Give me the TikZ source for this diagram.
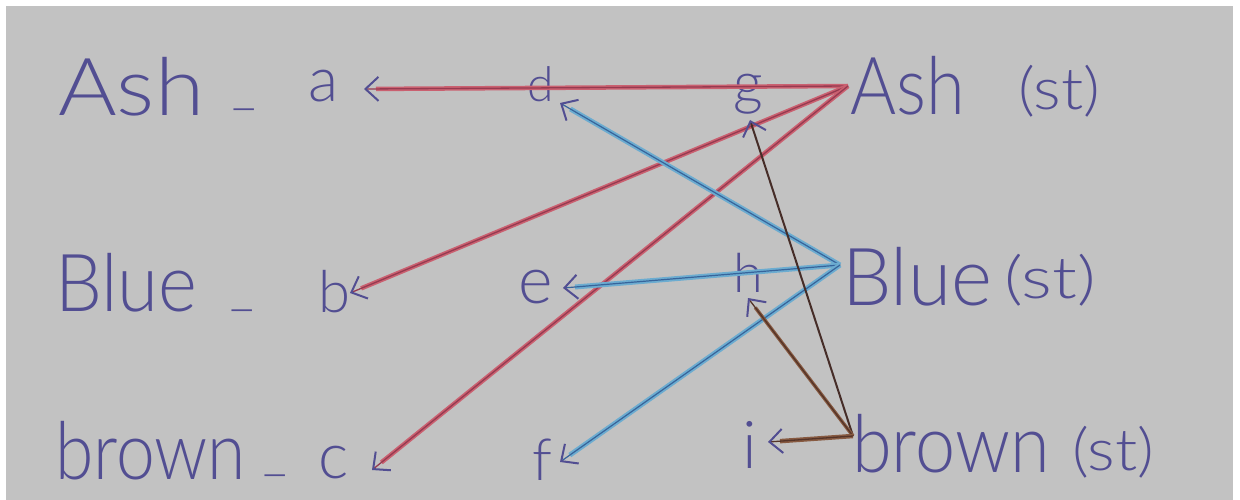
\documentclass[tikz,border=0pt]{standalone}
\usepackage{fontspec}
\setmainfont{Lato Light}
\usetikzlibrary{arrows.meta}
\definecolor{paper}{RGB}{194,194,194}
\definecolor{ink}{RGB}{82,78,146}
\definecolor{redout}{RGB}{202,96,112}
\definecolor{redcore}{RGB}{150,58,80}
\definecolor{blueout}{RGB}{108,172,208}
\definecolor{bluecore}{RGB}{55,100,155}
\definecolor{browndark}{RGB}{70,45,40}
\definecolor{brownout}{RGB}{135,90,65}
\definecolor{browncore}{RGB}{85,52,40}
\tikzset{
  bigword/.style={font=\fontsize{80}{90}\selectfont, text=ink, inner sep=0pt, anchor=base west},
  letter/.style={font=\fontsize{#1}{#1}\selectfont, text=ink, inner sep=0pt, anchor=base west},
  letter/.default=58,
  stmark/.style={font=\fontsize{58}{62}\selectfont, text=ink, inner sep=0pt, anchor=base west},
  dashmark/.style={font=\fontsize{52}{54}\selectfont, text=ink, inner sep=0pt, anchor=base west},
  inktip/.style={-{Straight Barb[length=13pt,width=24pt,line width=2pt,color=ink]}},
  redwide/.style={draw=redout, line width=4.5pt, shorten >=12pt},
  redthin/.style={inktip, draw=redcore, line width=1.3pt},
  bluewide/.style={draw=blueout, line width=5pt, shorten >=12pt},
  bluethin/.style={inktip, draw=bluecore, line width=1.2pt},
  brownthin/.style={inktip, draw=browndark, line width=2pt},
  brownwide/.style={draw=brownout, line width=3.5pt, shorten >=12pt},
  browncoreline/.style={inktip, draw=browncore, line width=1.3pt},
}
\begin{document}
\begin{tikzpicture}[x=1pt,y=-1pt]
\fill[white] (0,0) rectangle (1240,500);
\fill[paper] (6,6) rectangle (1233,500);
\useasboundingbox (0,0) rectangle (1240,500);

% left column
\node[bigword] (ashL) at (58,116) {\scalebox{1.12}[1]{Ash}};
\node[dashmark] (dash1) at (232,104) {\_};
\node[letter=62] (a) at (308,102) {a};
\node[bigword] (blueL) at (55,311) {\scalebox{0.93}[1]{Blue}};
\node[dashmark] (dash2) at (230,304) {\_};
\node[letter=58] (b) at (318,312) {b};
\node[bigword] (brownL) at (55,479) {\scalebox{0.87}[1]{brown}};
\node[dashmark] (dash3) at (263,469) {\_};
\node[letter=64] (c) at (318,478) {c};

% middle columns
\node[letter=48] (d) at (527,102) {d};
\node[letter=66] (e) at (518,303) {e};
\node[letter=58] (f) at (532,480) {f};
\node[letter=58] (g) at (733,104) {g};
\node[letter=54] (h) at (733,292) {h};
\node[letter=66] (i) at (742,468) {i};

% right column
\node[bigword] (ashR) at (850,115) {\scalebox{0.88}[1]{Ash}};
\node[stmark] (ashst) at (1018,110) {\scalebox{1.12}[1]{(st)}};
\node[bigword] (blueR) at (842,305) {\scalebox{0.98}[1]{Blue}};
\node[stmark] (bluest) at (1004,298) {\scalebox{1.25}[1]{(st)}};
\node[bigword] (brownR) at (852,472) {\scalebox{0.9}[1]{brown}};
\node[stmark] (brownst) at (1072,470) {\scalebox{1.12}[1]{(st)}};

% start points
\coordinate (ashS) at (848,86);
\coordinate (blueS) at (840,265);
\coordinate (brownS) at (853,436);
% arrow tips
\coordinate (aT) at (364,89);
\coordinate (bT) at (350,293);
\coordinate (cT) at (372,470);
\coordinate (dT) at (560,103);
\coordinate (eT) at (563,288);
\coordinate (fT) at (560,462);
\coordinate (gT) at (750,120);
\coordinate (hT) at (748,298);
\coordinate (iT) at (768,442);

% red: Ash (st)
\foreach \t in {aT,bT,cT}{
  \draw[redwide] (ashS) -- (\t);
  \draw[redthin] (ashS) -- (\t);
}
% blue: Blue (st)
\foreach \t in {dT,eT,fT}{
  \draw[bluewide] (blueS) -- (\t);
  \draw[bluethin] (blueS) -- (\t);
}
% brown: brown (st)
\draw[brownthin] (brownS) -- (gT);
\draw[brownwide] (brownS) -- (hT);
\draw[browncoreline] (brownS) -- (hT);
\draw[brownwide, line width=4.5pt] (brownS) -- (iT);
\draw[browncoreline] (brownS) -- (iT);
\end{tikzpicture}
\end{document}
